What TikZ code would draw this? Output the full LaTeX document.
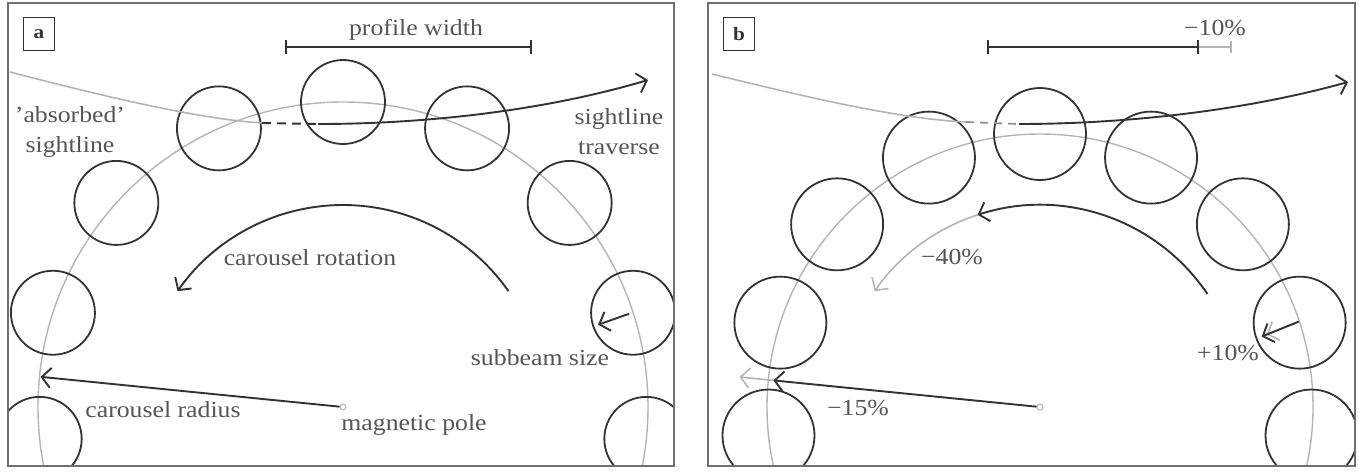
\documentclass[tikz,border=0pt]{standalone}
\usepackage{fontspec}
\setmainfont{Liberation Serif}[FakeStretch=1.12]
\usetikzlibrary{arrows.meta,calc}
\definecolor{ink}{HTML}{333333}
\definecolor{txt}{HTML}{555555}
\definecolor{lgray}{HTML}{B4B4B4}
\definecolor{fgray}{HTML}{707070}
\tikzset{
  beam/.style={circle,draw=ink,line width=1.8pt,inner sep=0pt},
  carousel/.style={draw=lgray,line width=1.4pt},
  frame/.style={draw=fgray,line width=2.2pt},
  dark/.style={draw=ink,line width=1.9pt},
  pale/.style={draw=lgray,line width=1.6pt},
  barb/.style={-{Straight Barb[length=9pt,width=20pt]}},
  lbl/.style={text=txt,font=\fontsize{23}{30}\selectfont,inner sep=0pt,align=center},
  pole/.style={circle,draw=lgray,line width=1pt,minimum size=6pt,inner sep=0pt},
  tag/.style={draw=ink,line width=1.4pt,minimum width=31pt,minimum height=33pt,inner sep=0pt,font=\fontsize{19}{19}\selectfont\bfseries,text=ink},
}
\begin{document}
\begin{tikzpicture}[x=1pt,y=-1pt]
\useasboundingbox (0,0) rectangle (1359,472);
% ================= panel a =================
\begin{scope}
  \clip (8,3) rectangle (674,466);
  \coordinate (pa0) at (343,407);
  \draw[carousel] (pa0) circle[radius=305];
  \foreach \k [count=\i] in {90,114,138,162,186,66,42,18,-6}
    \node[beam,minimum size=84pt] (a\i) at ($(pa0)+(-\k:305)$) {};
  % sightline
  \coordinate (sa0) at (10,72);
  \coordinate (sa1) at (262,123);
  \coordinate (sa2) at (318,124);
  \coordinate (sa3) at (648,80);
  \draw[pale] (sa0) .. controls (110,98) and (200,119) .. (sa1);
  \draw[dark,dash pattern=on 9pt off 6pt] (sa1) -- (sa2);
  \draw[dark,barb] (sa2) .. controls (420,124) and (540,112) .. (sa3);
\end{scope}
\draw[frame] (8,3) rectangle (674,466);
\node[tag] (ta) at (39,34) {a};
\node[pole] (pa) at (343,407) {};
\coordinate (ra) at ($(pa0)+(-174.3:304)$);
\draw[dark,barb] (pa) -- (ra);
\coordinate (rot1) at ($(pa0)+(-35:202)$);
\draw[dark,barb] (rot1) arc[start angle=-35,end angle=-145,radius=202];
\coordinate (sb1) at ($(a8)+(-4,1)$);
\coordinate (sb2) at ($(a8)+(-35,12)$);
\draw[dark,barb] (sb1) -- (sb2);
\coordinate (pw1) at (286,47);
\coordinate (pw2) at (531,47);
\draw[dark] (pw1) -- (pw2);
\draw[dark] ($(pw1)+(0,-7)$) -- ($(pw1)+(0,7)$);
\draw[dark] ($(pw2)+(0,-7)$) -- ($(pw2)+(0,7)$);
\node[lbl] (tpw) at (416,30) {profile width};
\node[lbl] (tab) at (70,132) {'absorbed'\\sightline};
\node[lbl] (tst) at (619,132) {sightline\\traverse};
\node[lbl] (tcr) at (310,258) {carousel rotation};
\node[lbl] (trad) at (163,410) {carousel radius};
\node[lbl] (tmp) at (414,425) {magnetic pole};
\node[lbl] (tss) at (540,358) {subbeam size};
% ================= panel b =================
\begin{scope}
  \clip (708,3) rectangle (1355,466);
  \coordinate (pb0) at (1040,407);
  \draw[carousel] (pb0) circle[radius=273];
  \foreach \k [count=\i] in {90,114,138,162,186,66,42,18,-6}
    \node[beam,minimum size=92pt] (b\i) at ($(pb0)+(-\k:273)$) {};
  \coordinate (sbb0) at (712,74);
  \coordinate (sbb1) at (966,122);
  \coordinate (sbb2) at (1019,124);
  \coordinate (sbb3) at (1348,82);
  \draw[pale] (sbb0) .. controls (810,98) and (900,119) .. (sbb1);
  \draw[draw=lgray!80!black,line width=1.8pt,dash pattern=on 8pt off 6pt] (sbb1) -- (sbb2);
  \draw[dark,barb] (sbb2) .. controls (1120,124) and (1240,112) .. (sbb3);
\end{scope}
\draw[frame] (708,3) rectangle (1355,466);
\node[tag] (tb) at (739,34) {b};
\node[pole] (pb) at (1040,407) {};
\coordinate (rb1) at ($(pb0)+(-174.3:268)$);
\coordinate (rb2) at ($(pb0)+(-174.3:302)$);
\draw[pale,barb] (rb1) -- (rb2);
\draw[dark,barb] (pb) -- (rb1);
\coordinate (rotb1) at ($(pb0)+(-34:202)$);
\coordinate (rotb2) at ($(pb0)+(-108:202)$);
\draw[dark,barb] (rotb1) arc[start angle=-34,end angle=-108,radius=202];
\draw[pale,barb] (rotb2) arc[start angle=-108,end angle=-145,radius=202];
\coordinate (sbb4) at ($(b8)+(-1,-1)$);
\coordinate (sbb5) at ($(b8)+(-33,12)$);
\coordinate (sbb6) at ($(b8)+(-38,14)$);
\draw[pale,barb] (sbb4) -- (sbb5);
\draw[dark,barb] (sbb4) -- (sbb6);
\coordinate (pv1) at (988,47);
\coordinate (pv2) at (1198,47);
\coordinate (pv3) at (1231,47);
\draw[pale,line width=1.2pt] (pv2) -- (pv3);
\draw[pale,line width=1.2pt] ($(pv3)+(0,-6)$) -- ($(pv3)+(0,6)$);
\draw[dark] (pv1) -- (pv2);
\draw[dark] ($(pv1)+(0,-7)$) -- ($(pv1)+(0,7)$);
\draw[dark] ($(pv2)+(0,-7)$) -- ($(pv2)+(0,7)$);
\node[lbl] (tm10) at (1215,28) {−10\%};
\node[lbl] (tm40) at (952,257) {−40\%};
\node[lbl] (tm15) at (858,408) {−15\%};
\node[lbl] (tp10) at (1228,353) {+10\%};
\end{tikzpicture}
\end{document}
